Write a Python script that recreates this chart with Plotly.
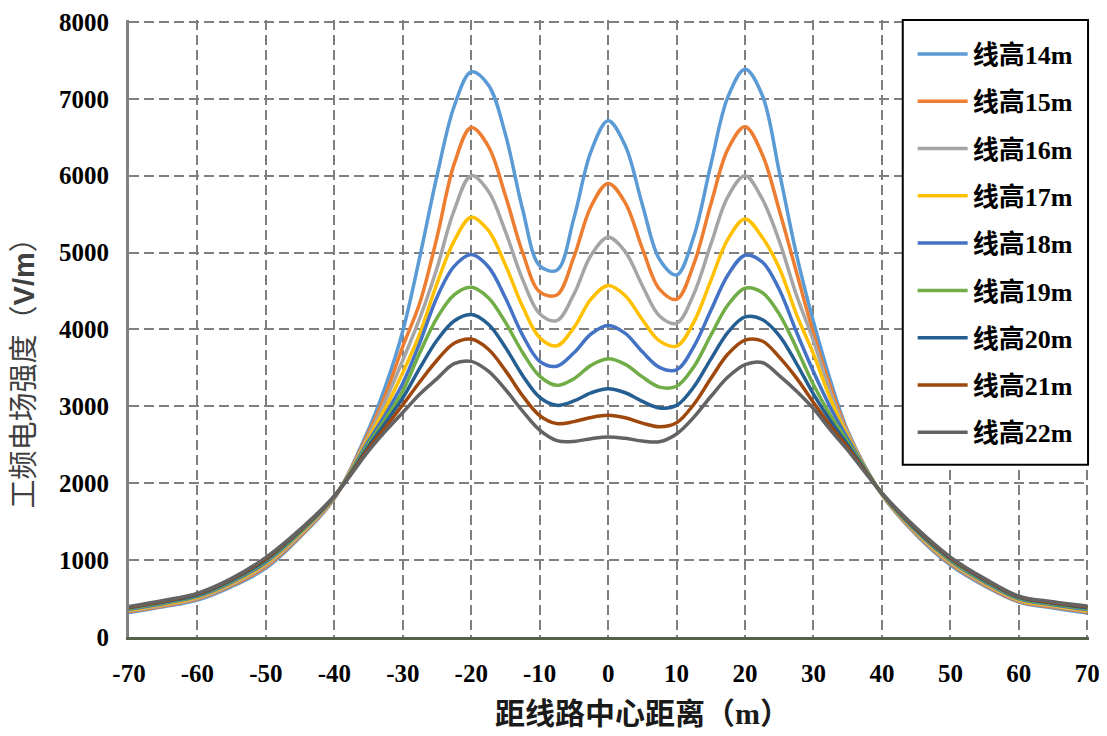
import plotly.graph_objects as go

x = [-70, -65, -60, -55, -50, -45, -40,
     -35, -32.5, -30, -27.5, -25, -22.5, -20, -17.5, -15, -12.5, -10, -7.5, -5, -2.5, 0,
     2.5, 5, 7.5, 10, 12.5, 15, 17.5, 20, 22.5, 25, 27.5, 30, 32.5, 35,
     40, 45, 50, 55, 60, 65, 70]

h14 = [320, 392, 480, 655, 895, 1300, 1800,
       2700, 3270, 3980, 4950, 6000, 6900, 7350, 7180, 6535, 5563, 4830, 4770, 5448, 6316, 6714,
       6389, 5623, 4913, 4710, 5206, 6142, 7025, 7385, 7050, 6050, 4980, 4100, 3330, 2680,
       1850, 1330, 935, 665, 455, 378, 312]
h15 = [330, 403, 492, 670, 915, 1315, 1808,
       2660, 3160, 3780, 4350, 5200, 6150, 6627, 6382, 5740, 5002, 4489, 4449, 4945, 5600, 5900,
       5647, 5052, 4524, 4393, 4847, 5628, 6346, 6636, 6280, 5550, 4750, 3950, 3250, 2660,
       1853, 1342, 950, 678, 465, 389, 323]
h16 = [340, 414, 504, 685, 935, 1330, 1815,
       2620, 3080, 3600, 4150, 4800, 5550, 6000, 5798, 5272, 4651, 4204, 4115, 4459, 4964, 5199,
       5011, 4569, 4176, 4080, 4459, 5106, 5728, 5998, 5700, 5150, 4450, 3850, 3180, 2640,
       1857, 1354, 965, 691, 475, 400, 334]
h17 = [350, 425, 516, 700, 955, 1345, 1820,
       2585, 2980, 3440, 3950, 4600, 5150, 5459, 5288, 4837, 4298, 3892, 3787, 4024, 4395, 4571,
       4439, 4127, 3851, 3783, 4092, 4636, 5176, 5437, 5200, 4800, 4200, 3680, 3090, 2610,
       1860, 1366, 980, 704, 485, 410, 345]
h18 = [360, 436, 528, 714, 972, 1358, 1825,
       2550, 2900, 3300, 3830, 4420, 4820, 4974, 4816, 4409, 3927, 3585, 3522, 3696, 3941, 4052,
       3949, 3709, 3507, 3475, 3774, 4245, 4709, 4966, 4880, 4520, 3970, 3450, 2980, 2580,
       1863, 1378, 995, 716, 495, 420, 356]
h19 = [370, 447, 540, 727, 990, 1370, 1828,
       2515, 2840, 3200, 3700, 4150, 4450, 4548, 4412, 4092, 3701, 3393, 3273, 3360, 3533, 3619,
       3546, 3383, 3250, 3261, 3512, 3925, 4318, 4536, 4480, 4200, 3760, 3280, 2880, 2540,
       1865, 1390, 1008, 728, 505, 430, 368]
h20 = [380, 457, 550, 740, 1005, 1382, 1830,
       2480, 2790, 3110, 3500, 3860, 4110, 4194, 4067, 3765, 3402, 3116, 3013, 3070, 3176, 3229,
       3177, 3065, 2979, 3012, 3251, 3614, 3963, 4163, 4130, 3920, 3560, 3160, 2810, 2500,
       1867, 1400, 1020, 740, 515, 440, 380]
h21 = [388, 466, 560, 752, 1020, 1392, 1832,
       2450, 2730, 3020, 3320, 3600, 3820, 3875, 3743, 3465, 3138, 2880, 2775, 2801, 2855, 2883,
       2851, 2781, 2734, 2787, 3024, 3361, 3680, 3862, 3850, 3640, 3370, 3050, 2740, 2465,
       1868, 1410, 1030, 751, 524, 449, 392]
h22 = [396, 475, 568, 762, 1035, 1400, 1834,
       2420, 2680, 2920, 3160, 3360, 3555, 3585, 3457, 3219, 2938, 2691, 2555, 2544, 2580, 2602,
       2584, 2549, 2540, 2641, 2857, 3128, 3381, 3543, 3570, 3400, 3200, 2970, 2690, 2430,
       1870, 1420, 1040, 760, 532, 458, 403]

names = ["线高14m", "线高15m", "线高16m", "线高17m", "线高18m",
         "线高19m", "线高20m", "线高21m", "线高22m"]
series = [h14, h15, h16, h17, h18, h19, h20, h21, h22]
colors = ["#5B9BD5", "#ED7D31", "#A5A5A5", "#FFC000", "#4472C4",
          "#70AD47", "#255E91", "#9E480E", "#636363"]

x_ticks = list(range(-70, 71, 10))
y_ticks = list(range(0, 8001, 1000))

fig = go.Figure()
for nm, ys, c in zip(names, series, colors):
    fig.add_trace(go.Scatter(
        x=x, y=ys, name=nm, mode="lines",
        line=dict(color=c, width=3.5, shape="spline", smoothing=1.0),
        legendgroup=nm,
    ))

tickfont = dict(family="Liberation Serif, serif", size=25, color="black", weight="bold")
grid = dict(showgrid=True, gridcolor="#7f7f7f", gridwidth=2, griddash="10px,5px")

# page body adds an 8px margin; the figure is sized so the plot area lands where the reference has it
fig.update_layout(
    width=1099, height=728,
    margin=dict(l=121, r=18, t=12, b=99),
    paper_bgcolor="white", plot_bgcolor="white",
    showlegend=True,
    legend=dict(
        x=0.8163, xanchor="left", y=0.983, yanchor="top",
        bgcolor="rgba(0,0,0,0)", borderwidth=0,
        font=dict(family="Liberation Serif, Noto Sans CJK SC", size=26, color="black", weight="bold"),
        tracegroupgap=10.5, itemwidth=50,
    ),
    shapes=[dict(type="rect", xref="paper", yref="paper", x0=0.806, x1=0.999, y0=0.279, y1=1.0,
                 line=dict(color="black", width=2), fillcolor="white", layer="above")],
    xaxis=dict(
        range=[-70, 70.25], tickvals=x_ticks, ticktext=[str(v) for v in x_ticks],
        zeroline=False, showline=True, linecolor="#56634c", linewidth=3,
        ticks="", tickfont=tickfont, ticklabelstandoff=12, automargin=False,
        ticklabeloverflow="allow", **grid,
    ),
    yaxis=dict(
        range=[0, 8025], tickvals=y_ticks, ticktext=[str(v) for v in y_ticks],
        zeroline=False, showline=True, linecolor="#808080", linewidth=3,
        ticks="", tickfont=tickfont, ticklabelstandoff=12, automargin=False,
        ticklabeloverflow="allow", **grid,
    ),
    annotations=[
        dict(text="距线路中心距离（m）", xref="paper", yref="paper",
             x=0.535, y=-0.1245, xanchor="center", yanchor="middle", showarrow=False,
             font=dict(family="Liberation Serif, Noto Sans CJK SC", size=30, color="#1a1a1a", weight="bold")),
        dict(text="工频电场强度（<b>V/m</b>）", xref="paper", yref="paper",
             x=-0.1095, y=0.44, xanchor="center", yanchor="middle", showarrow=False, textangle=-90,
             font=dict(family="Liberation Sans, Noto Sans CJK SC", size=29, color="#404040")),
    ],
)

fig.write_html("out.html")
